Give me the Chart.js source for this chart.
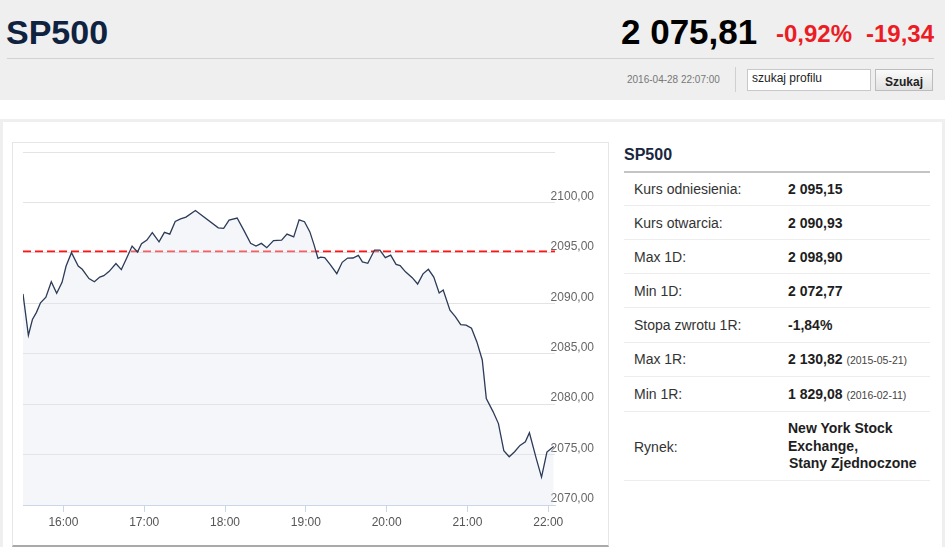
<!DOCTYPE html>
<html>
<head>
<meta charset="utf-8">
<script src="https://cdn.jsdelivr.net/npm/chart.js@4.4.1/dist/chart.umd.min.js"></script>
<style>
  html,body{margin:0;padding:0;}
  body{width:945px;height:547px;overflow:hidden;position:relative;background:#fff;font-family:"Liberation Sans",Arial,sans-serif;}
  .a{position:absolute;line-height:1;white-space:nowrap;}
  #hdr{left:0;top:0;width:945px;height:100px;background:#efefef;}
  #panel{left:0;top:119px;width:939px;height:440px;border:3px solid #efefef;border-bottom:none;}
  #cbox{left:12px;top:142px;width:595px;height:402px;border:1px solid #e6e6e6;border-bottom:2px solid #a9a9a9;}
  #cv{position:absolute;left:13px;top:143px;}
  .lbl{font-size:14px;color:#333;left:634px;}
  .val{font-size:14px;color:#1e1e1e;font-weight:bold;left:788px;}
  .dt{font-size:10.5px;font-weight:normal;color:#444;}
  .sep{position:absolute;left:624px;width:306px;height:1px;background:#ececec;}
</style>
</head>
<body>
<div id="hdr" class="a"></div>
<div class="a" style="left:6px;top:14.5px;font-size:34px;font-weight:bold;color:#0f2240;">SP500</div>
<div class="a" style="left:621px;top:13.7px;font-size:35px;font-weight:bold;color:#000;">2 075,81</div>
<div class="a" style="left:776px;top:22.4px;font-size:24px;font-weight:bold;color:#ec1c24;">-0,92%</div>
<div class="a" style="left:866px;top:22.4px;font-size:24px;font-weight:bold;color:#ec1c24;">-19,34</div>
<div class="a" style="left:7px;top:58px;width:927px;height:1px;background:#d2d2d2;"></div>
<div class="a" style="left:627px;top:74.8px;font-size:10px;color:#777;">2016-04-28 22:07:00</div>
<div class="a" style="left:735px;top:67px;width:1px;height:25px;background:#d0d0d0;"></div>
<div class="a" style="left:747px;top:69px;width:122px;height:20px;background:#fff;border:1px solid #c8c8c8;"></div>
<div class="a" style="left:752px;top:72px;font-size:12px;color:#222;">szukaj profilu</div>
<div class="a" style="left:875px;top:69px;width:56px;height:20px;border:1px solid #bcbcbc;background:linear-gradient(#fafafa,#e2e2e2);"></div>
<div class="a" style="left:875px;width:58px;top:75.8px;font-size:12px;font-weight:bold;color:#222;text-align:center;">Szukaj</div>

<div id="panel" class="a"></div>
<div id="cbox" class="a"></div>
<canvas id="cv" width="595" height="402" style="width:595px;height:402px;"></canvas>

<div class="a" style="left:624px;top:146.5px;font-size:16px;font-weight:bold;color:#1a2740;">SP500</div>
<div class="a" style="left:624px;top:171px;width:306px;height:2px;background:#c4c4c4;"></div>

<div class="a lbl" style="top:181.5px;">Kurs odniesienia:</div>
<div class="a val" style="top:181.5px;">2 095,15</div>
<div class="sep" style="top:205px;"></div>
<div class="a lbl" style="top:215.6px;">Kurs otwarcia:</div>
<div class="a val" style="top:215.6px;">2 090,93</div>
<div class="sep" style="top:239px;"></div>
<div class="a lbl" style="top:249.7px;">Max 1D:</div>
<div class="a val" style="top:249.7px;">2 098,90</div>
<div class="sep" style="top:273px;"></div>
<div class="a lbl" style="top:283.7px;">Min 1D:</div>
<div class="a val" style="top:283.7px;">2 072,77</div>
<div class="sep" style="top:307px;"></div>
<div class="a lbl" style="top:317.5px;">Stopa zwrotu 1R:</div>
<div class="a val" style="top:317.5px;">-1,84%</div>
<div class="sep" style="top:341.5px;"></div>
<div class="a lbl" style="top:351.6px;">Max 1R:</div>
<div class="a val" style="top:351.6px;">2 130,82 <span class="dt">(2015-05-21)</span></div>
<div class="sep" style="top:376px;"></div>
<div class="a lbl" style="top:386.5px;">Min 1R:</div>
<div class="a val" style="top:386.5px;">1 829,08 <span class="dt">(2016-02-11)</span></div>
<div class="sep" style="top:411px;"></div>
<div class="a lbl" style="top:439.8px;">Rynek:</div>
<div class="a val" style="top:421.4px;">New York Stock</div>
<div class="a val" style="top:438.8px;">Exchange,</div>
<div class="a val" style="top:455.8px;left:789px;">Stany Zjednoczone</div>
<div class="sep" style="top:480px;"></div>

<script>
// ---- data ----
const times = ["15:30","15:34","15:37","15:40","15:43","15:47","15:51","15:55","15:59",
  "16:02","16:06","16:11","16:14","16:19","16:23","16:27","16:30","16:34","16:39","16:43","16:47","16:51","16:55","16:58",
  "17:02","17:06","17:11","17:15","17:19","17:23","17:27","17:31","17:38","17:55","17:59",
  "18:03","18:09","18:14","18:19","18:23","18:27","18:31","18:36","18:42","18:46","18:51","18:55","18:59",
  "19:03","19:06","19:09","19:11","19:14","19:18","19:23","19:27","19:31","19:35","19:39","19:42","19:46","19:51","19:55","19:59",
  "20:03","20:07","20:10","20:14","20:19","20:23","20:27","20:31","20:35","20:39","20:42","20:47","20:51","20:55","20:59",
  "21:03","21:07","21:11","21:14","21:19","21:23","21:27","21:31","21:35","21:39","21:43","21:46","21:51","21:55","21:59",
  "22:04"];
const prices = [2090.93,2086.83,2088.39,2089.10,2090.05,2090.60,2092.13,2090.99,2092.08,
  2093.69,2095.02,2093.69,2093.37,2092.45,2092.13,2092.60,2092.74,2093.17,2093.94,2093.34,2094.49,2095.67,2095.08,2095.91,
  2096.27,2097.00,2096.09,2097.03,2096.86,2098.12,2098.37,2098.54,2099.20,2097.48,2097.43,
  2098.25,2098.45,2097.23,2095.94,2095.67,2095.94,2095.51,2096.21,2096.26,2096.86,2096.58,2098.27,2098.09,
  2097.08,2095.84,2094.46,2094.58,2094.52,2093.86,2092.94,2094.06,2094.48,2094.49,2094.75,2094.11,2093.96,2095.28,2095.28,2094.52,
  2094.78,2093.86,2093.73,2093.12,2092.54,2091.91,2092.92,2093.37,2092.60,2091.02,2091.32,2089.31,2088.68,2087.89,2087.84,
  2087.52,2086.17,2084.38,2080.56,2079.26,2078.07,2075.38,2074.78,2075.28,2075.91,2076.26,2077.16,2074.65,2072.77,2075.25,
  2075.81];
const refPrice = 2095.15;               // Kurs odniesienia
const xRange = ["15:30","22:05"];
const xTickLabels = ["16:00","17:00","18:00","19:00","20:00","21:00","22:00"];
const yTickValues = [2070,2075,2080,2085,2090,2095,2100,2105];
const yTickLabels = ["2070,00","2075,00","2080,00","2085,00","2090,00","2095,00","2100,00",""];

const toMin = t => { const p = t.split(":"); return (+p[0])*60 + (+p[1]); };
const fmtMin = m => String(Math.floor(m/60)).padStart(2,"0") + ":" + String(m%60).padStart(2,"0");
const FONT = '"Liberation Sans", Arial, sans-serif';

const xMin = toMin(xRange[0]), xMax = toMin(xRange[1]);

new Chart(document.getElementById("cv"), {
  type: "line",
  data: {
    datasets: [
      {
        label: "SP500",
        data: times.map((t, i) => ({ x: toMin(t), y: prices[i] })),
        borderColor: "#2c3b57",
        borderWidth: 1.3,
        pointRadius: 0,
        tension: 0,
        fill: "start",
        backgroundColor: "rgba(225,230,238,0.36)",
        order: 1
      },
      {
        label: "Kurs odniesienia",
        data: [{ x: xMin, y: refPrice }, { x: xMax, y: refPrice }],
        borderColor: "#ff1414",
        borderWidth: 1.7,
        borderDash: [8, 4],
        pointRadius: 0,
        fill: false,
        order: 2
      }
    ]
  },
  options: {
    responsive: false,
    animation: false,
    devicePixelRatio: 1,
    layout: { padding: { left: 10, top: 9, right: 0, bottom: 0 } },
    plugins: { legend: { display: false }, tooltip: { enabled: false } },
    scales: {
      x: {
        type: "linear",
        min: xMin,
        max: xMax,
        afterBuildTicks: s => { s.ticks = xTickLabels.map(t => ({ value: toMin(t) })); },
        afterFit: s => { s.height = 40; },
        ticks: {
          callback: v => fmtMin(v),
          color: "#555",
          font: { size: 12, family: FONT },
          padding: 3,
          maxRotation: 0,
          autoSkip: false
        },
        grid: { drawOnChartArea: false, drawTicks: true, tickLength: 7, color: "#ccd6eb" },
        border: { color: "#ccd6eb", width: 1 }
      },
      y: {
        position: "right",
        min: yTickValues[0],
        max: yTickValues[yTickValues.length - 1],
        afterBuildTicks: s => { s.ticks = yTickValues.map(v => ({ value: v })); },
        afterFit: s => { s.width = 53; s.paddingTop = 0; s.paddingBottom = 0; },
        ticks: {
          callback: (v) => { const i = yTickValues.indexOf(v); return i >= 0 ? yTickLabels[i] : ""; },
          color: "#666",
          font: { size: 12, family: FONT },
          labelOffset: -6,
          mirror: true,
          padding: 39,
          autoSkip: false
        },
        grid: { color: "#e3e3e3", drawTicks: false },
        border: { display: false }
      }
    }
  }
});
</script>
</body>
</html>
